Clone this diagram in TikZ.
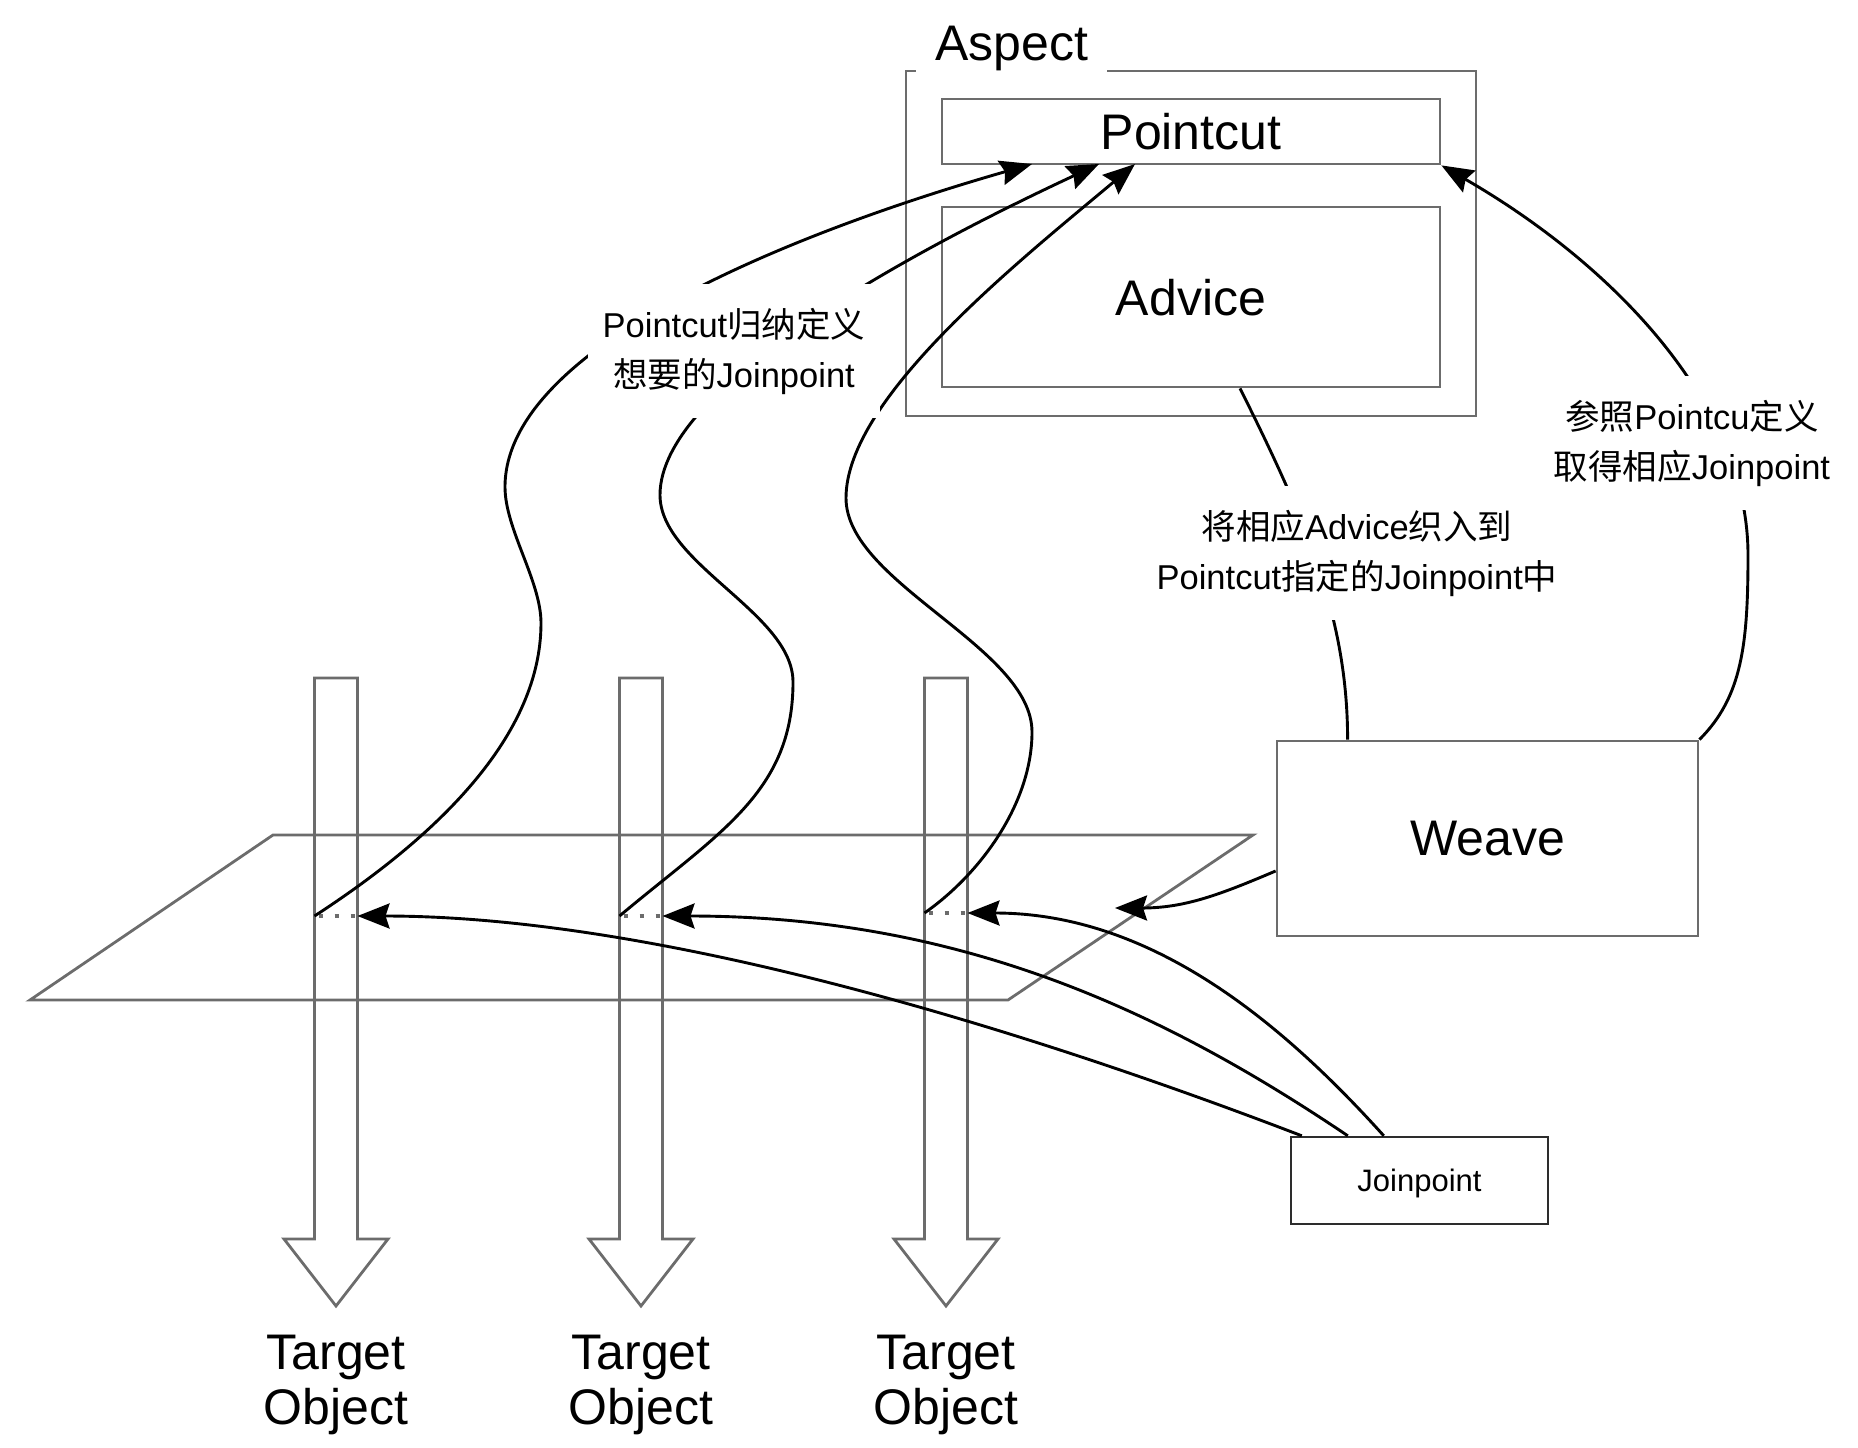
\documentclass[tikz,border=0pt]{standalone}
\usepackage{fontspec}
\setmainfont{Liberation Sans}
\newfontfamily\cjk{Noto Sans CJK SC}
\usetikzlibrary{arrows.meta,calc}
\definecolor{boxgray}{RGB}{108,108,108}
\definecolor{jpgray}{RGB}{45,45,45}
\begin{document}
\begin{tikzpicture}[x=1pt,y=1pt,
  gline/.style={draw=boxgray, line width=2.8pt, line join=miter},
  gbox/.style={gline, rectangle, inner sep=0pt},
  conn/.style={draw=black, line width=2.9pt},
  arr/.style={conn, -{Stealth[length=32pt,width=25pt,inset=4pt]}},
  dotl/.style={draw=boxgray, line width=3.2pt, dash pattern=on 4pt off 12pt, dash phase=12pt},
  big/.style={font=\fontsize{50pt}{55pt}\selectfont},
  lbl/.style={fill=white, inner sep=0pt, align=center, minimum height=134pt,
              font=\fontsize{34.5pt}{50pt}\selectfont}]
\useasboundingbox (0,0) rectangle (1858,-1448);

% plane
\coordinate (p1) at (273,-835);
\coordinate (p2) at (1253,-835);
\coordinate (p3) at (1008,-1000);
\coordinate (p4) at (30,-1000);
\draw[gline] (p1) -- (p2) -- (p3) -- (p4) -- cycle;

% hollow arrows (target objects)
\foreach \c/\n in {336/1,641/2,946/3} {
  \draw[gline] (\c-21.5,-678) -- (\c+21.5,-678) -- (\c+21.5,-1239) -- (\c+52,-1239)
     -- (\c,-1306) -- (\c-52,-1239) -- (\c-21.5,-1239) -- cycle;
  \node[big, align=center, inner sep=0pt] (t\n) at (\c,-1385) {Target\\Object};
}

% joinpoint markers
\coordinate (jL1) at (314.5,-916);
\coordinate (jR1) at (357.5,-916);
\coordinate (jL2) at (619.5,-916);
\coordinate (jR2) at (662.5,-916);
\coordinate (jL3) at (924.5,-913);
\coordinate (jR3) at (967.5,-913);
\draw[dotl] (jL1) -- (jR1);
\draw[dotl] (jL2) -- (jR2);
\draw[dotl] (jL3) -- (jR3);

% boxes
\node[gbox, minimum width=570pt, minimum height=345pt] (aspect) at (1191,-243.5) {};
\node[fill=white, inner sep=0pt, minimum width=191pt, minimum height=70pt, big, text depth=0pt] (aspectlbl) at (1011.5,-43) {Aspect};
\node[gbox, minimum width=498pt, minimum height=65pt, big, text depth=0pt] (pointcut) at (1191,-131.5) {Pointcut};
\node[gbox, minimum width=498pt, minimum height=180pt, big, text depth=0pt] (advice) at (1191,-297) {Advice};
\node[gbox, minimum width=421pt, minimum height=195pt, big, text depth=0pt] (weave) at (1487.5,-838.5) {Weave};
\node[draw=jpgray, line width=2.4pt, inner sep=0pt, minimum width=257pt, minimum height=87pt,
      font=\fontsize{31pt}{36pt}\selectfont, text depth=0pt] (joinpoint) at (1419.5,-1180.5) {Joinpoint};

% connector end points
\coordinate (pt1) at (1032,-164);
\coordinate (pt2) at (1099,-164);
\coordinate (pt3) at (1135,-164);
\coordinate (ja) at ($(joinpoint.north west)+(12,0)$);
\coordinate (jb) at ($(joinpoint.north west)+(58,0)$);
\coordinate (jc) at ($(joinpoint.north west)+(94,0)$);
\coordinate (aw1) at ($(advice.south)+(49,0)$);
\coordinate (aw2) at ($(weave.north west)+(72,0)$);
\coordinate (wp) at ($(weave.west)+(0,-32.5)$);
\coordinate (planept) at (1115,-908);

% pointcut definitions (joinpoints -> pointcut)
\draw[arr] (jL1) .. controls +(33:130) and +(-90:120) .. (541,-623)
  .. controls +(90:42) and +(-90:42) .. (505,-487)
  .. controls +(90:140) and +(196:250) .. (pt1);
\draw[arr] (jL2) .. controls +(40:130) and +(-90:110) .. (793,-682)
  .. controls +(90:69) and +(-90:69) .. (660,-495)
  .. controls +(90:110) and +(205:200) .. (pt2);
\draw[arr] (jL3) .. controls +(35:70) and +(-90:70) .. (1032,-732)
  .. controls +(90:85) and +(-90:85) .. (846,-498)
  .. controls +(90:100) and +(220:150) .. (pt3);

% weave -> pointcut
\draw[arr] (weave.north east) .. controls +(45:60) and +(-90:90) .. (1748,-555)
  .. controls +(90:150) and +(-30:200) .. (pointcut.south east);

% advice -> weave
\draw[conn] (aw1) .. controls +(-63.4:150) and +(90:120) .. (aw2);

% weave -> plane
\draw[arr] (wp) .. controls +(203:60) and +(0:70) .. (planept);

% joinpoint -> joinpoints
\draw[arr] (ja) .. controls +(159:300) and +(0:300) .. (jR1);
\draw[arr] (jb) .. controls +(146:220) and +(0:300) .. (jR2);
\draw[arr] (jc) .. controls +(132:160) and +(0:180) .. (jR3);

% labels
\node[lbl, minimum width=292pt] (l1) at (734,-351) {Pointcut{\cjk 归纳定义}\\{\cjk 想要的}Joinpoint};
\node[lbl, minimum width=305pt] (l2) at (1692,-443) {{\cjk 参照}Pointcu{\cjk 定义}\\{\cjk 取得相应}Joinpoint};
\node[lbl, minimum width=445pt] (l3) at (1357,-553) {{\cjk 将相应}Advice{\cjk 织入到}\\Pointcut{\cjk 指定的}Joinpoint{\cjk 中}};
\end{tikzpicture}
\end{document}
